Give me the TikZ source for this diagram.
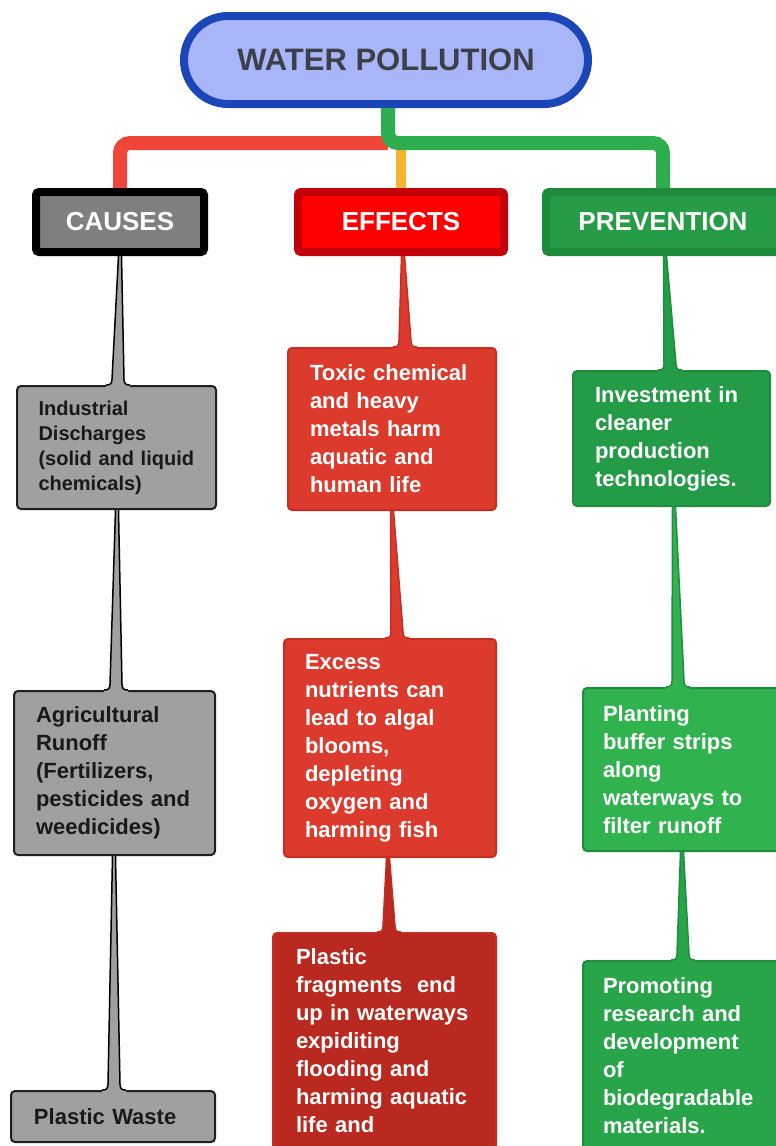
\documentclass[tikz,border=0pt]{standalone}
\usepackage{fontspec}
\setmainfont{Liberation Sans}
\usetikzlibrary{calc}
\definecolor{wpblue}{HTML}{1B46B8}
\definecolor{wplav}{HTML}{A8B5F8}
\definecolor{wptext}{HTML}{3C4048}
\definecolor{wpred}{HTML}{F0463A}
\definecolor{wpgreen}{HTML}{2EAE4E}
\definecolor{wporange}{HTML}{F5B52E}
\definecolor{causefill}{HTML}{7F7F7F}
\definecolor{effectdraw}{HTML}{C4000A}
\definecolor{effectfill}{HTML}{FF0000}
\definecolor{prevdraw}{HTML}{1E8A3C}
\definecolor{prevfill}{HTML}{279C46}
\definecolor{greyleaf}{HTML}{A0A0A0}
\definecolor{redleaf}{HTML}{DB3A2C}
\definecolor{redleafdark}{HTML}{B9291F}
\definecolor{redline}{HTML}{C52E22}
\definecolor{greenleaf}{HTML}{249B46}
\definecolor{greenleaflight}{HTML}{30B24F}
\definecolor{greenleafmid}{HTML}{28A449}
\definecolor{greenline}{HTML}{1F8C3E}
\tikzset{
  rootbox/.style   ={draw=wpblue, fill=wplav, line width=8pt, rounded corners=44pt,
                     minimum width=404pt, minimum height=88pt, text=wptext,
                     font=\fontsize{31}{37}\selectfont\bfseries},
  head/.style      ={line width=8pt, rounded corners=3pt, minimum height=60pt,
                     text=white, font=\fontsize{26}{30}\selectfont\bfseries},
  leaf/.style      ={line width=2pt, rounded corners=4pt, align=left, inner sep=0pt,
                     font=\fontsize{22}{28}\selectfont\bfseries},
  causeleaf/.style ={leaf, draw=black!88, fill=greyleaf, text=black!90},
  effectleaf/.style={leaf, draw=redline, fill=redleaf, text=white},
  prevleaf/.style  ={leaf, draw=greenline, fill=greenleaf, text=white},
  branch/.style    ={line width=14pt, rounded corners=10pt},
  causetaper/.style ={fill=greyleaf, draw=black, line width=1.5pt},
  effecttaper/.style={fill=redleaf, draw=redline, line width=1.5pt},
  prevtaper/.style  ={fill=greenleaf, draw=greenline, line width=1.5pt},
}
% tapered stem: parent, child, x shift at top, x shift at bottom, style
\newcommand\taper[5]{%
  \path ($(#1.south)+(#3,0)$) coordinate (tp) ($(#2.north)+(#4,0)$) coordinate (bt);
  \path[#5, draw=none] ($(tp)+(-1.5,0)$) -- ($(bt)+(-6,-6)$)
    .. controls ($(bt)+(-6,-1)$) and ($(bt)+(-8,0)$) .. ($(bt)+(-12,0)$)
    -- ($(bt)+(-12,3)$) -- ($(bt)+(12,3)$) -- ($(bt)+(12,0)$)
    .. controls ($(bt)+(8,0)$) and ($(bt)+(6,-1)$) .. ($(bt)+(6,-6)$)
    -- ($(tp)+(1.5,0)$) -- cycle;
  \path[#5, fill=none] ($(tp)+(-1.5,0)$) -- ($(bt)+(-6,-6)$)
    .. controls ($(bt)+(-6,-1)$) and ($(bt)+(-8,0)$) .. ($(bt)+(-12,0)$);
  \path[#5, fill=none] ($(tp)+(1.5,0)$) -- ($(bt)+(6,-6)$)
    .. controls ($(bt)+(6,-1)$) and ($(bt)+(8,0)$) .. ($(bt)+(12,0)$);
}
\begin{document}
\begin{tikzpicture}[x=1pt, y=-1pt]
  \useasboundingbox (0,0) rectangle (776,1146);
  \clip (0,0) rectangle (776,1146);
  \fill[white] (0,0) rectangle (776,1146);

  % root
  \node[rootbox] (title) at (386,60) {WATER POLLUTION};

  % the three heads
  \node[head, draw=black, fill=causefill, minimum width=168pt] (causes) at (120,222) {CAUSES};
  \node[head, draw=effectdraw, fill=effectfill, minimum width=206pt] (effects) at (401,222) {EFFECTS};
  \node[head, draw=prevdraw, fill=prevfill, minimum width=234pt] (prev) at (663,222) {PREVENTION};

  % branches
  \coordinate (hub) at ($(title.south)+(2,35)$);
  \draw[branch, line width=10pt, wporange] (hub -| effects.north) -- (effects.north);
  \draw[branch, wpred] (hub) -| (causes.north);
  \draw[branch, wpgreen] ($(title.south)+(2,0)$) -- (hub) -| (prev.north);

  % causes
  \node[causeleaf, minimum width=199pt, minimum height=123pt, text width=156pt,
        font=\fontsize{20}{25}\selectfont\bfseries] (ind) at (116.5,447.5)
        {Industrial\\Discharges\\(solid and liquid\\chemicals)};
  \node[causeleaf, minimum width=201pt, minimum height=164pt, text width=157pt] (agri) at (114.5,773)
        {Agricultural\\Runoff\\(Fertilizers,\\pesticides and\\weedicides)};
  \node[causeleaf, minimum width=204pt, minimum height=51pt, text width=158pt] (plw) at (113,1116.5)
        {Plastic Waste};

  % effects
  \node[effectleaf, minimum width=208pt, minimum height=162pt, text width=164pt] (tox) at (392,429)
        {Toxic chemical\\and heavy\\metals harm\\aquatic and\\human life};
  \node[effectleaf, minimum width=212pt, minimum height=218pt, text width=170pt] (exc) at (390,748)
        {Excess\\nutrients can\\lead to algal\\blooms,\\depleting\\oxygen and\\harming fish};
  \node[effectleaf, fill=redleafdark, minimum width=223pt, minimum height=216pt, text width=177pt]
        (frag) at (384.5,1041)
        {Plastic\\fragments \ end\\up in waterways\\expiditing\\flooding and\\harming aquatic\\life and};

  % prevention
  \node[prevleaf, minimum width=197pt, minimum height=135pt, text width=153pt] (inv) at (671.5,438.5)
        {Investment in\\cleaner\\production\\technologies.};
  \node[prevleaf, fill=greenleaflight, minimum width=198pt, minimum height=163pt, text width=158pt]
        (plant) at (682,769.5)
        {Planting\\buffer strips\\along\\waterways to\\filter runoff};
  \node[prevleaf, fill=greenleafmid, minimum width=200pt, minimum height=190pt, text width=160pt]
        (prom) at (683,1056)
        {Promoting\\research and\\development\\of\\biodegradable\\materials.};

  % stems
  \taper{causes}{ind}{0}{1.5}{causetaper}
  \taper{ind}{agri}{0.5}{1.5}{causetaper}
  \taper{agri}{plw}{-0.5}{1}{causetaper}
  \taper{effects}{tox}{2}{13}{effecttaper}
  \taper{tox}{exc}{0}{7}{effecttaper}
  \taper{exc}{frag}{-2}{4.5}{effecttaper, fill=redleafdark}
  \taper{prev}{inv}{2}{-1.5}{prevtaper}
  \taper{inv}{plant}{2.5}{-4}{prevtaper, fill=greenleaflight}
  \taper{plant}{prom}{0}{0}{prevtaper, fill=greenleafmid}
\end{tikzpicture}
\end{document}
